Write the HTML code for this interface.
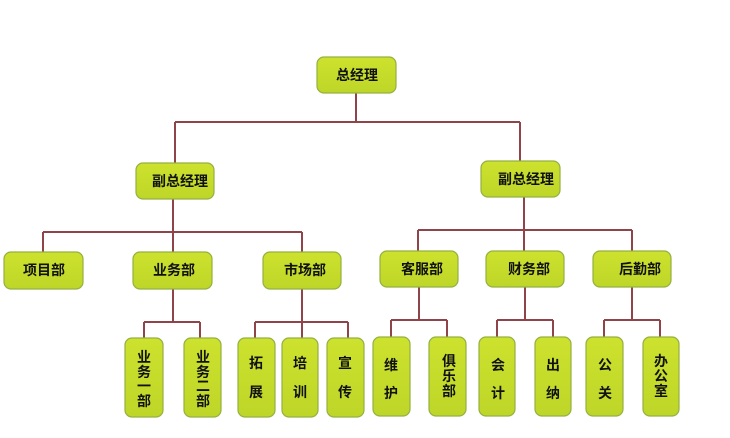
<!DOCTYPE html>
<html><head><meta charset="utf-8"><style>
html,body{margin:0;padding:0;background:#fff;}
svg{display:block;}
text{font-family:"Liberation Sans","Noto Sans CJK SC",sans-serif;font-size:14px;fill:#111;text-anchor:middle;font-weight:bold;}
</style></head><body>
<svg width="730" height="438" viewBox="0 0 730 438" xmlns="http://www.w3.org/2000/svg">
<defs><linearGradient id="g" x1="0" y1="0" x2="0" y2="1"><stop offset="0" stop-color="#cde22e"/><stop offset="1" stop-color="#bed628"/></linearGradient></defs>
<g stroke="#8e4448" stroke-width="2" fill="none">
<path d="M356 93V122M175 122H520M175 122V163M520 122V161"/>
<path d="M173 199V232M43 232H302M43 232V252M173 232V252M302 232V252"/>
<path d="M524 197V230M418 230H632M418 230V251M524 230V251M632 230V251"/>
<path d="M173 289V322M144 322H200M144 322V338M200 322V338"/>
<path d="M302 289V322M255 322H348M255 322V338M302 322V338M348 322V338"/>
<path d="M419 287V320M391 320H447M391 320V337M447 320V337"/>
<path d="M525 287V320M497 320H553M497 320V337M553 320V337"/>
<path d="M632 287V320M604 320H660M604 320V337M660 320V337"/>
</g>
<g fill="url(#g)" stroke="#93b040" stroke-width="1.2">
<rect x="317" y="57" width="79" height="36" rx="7"/>
<rect x="136" y="163" width="78" height="36" rx="7"/>
<rect x="481" y="161" width="79" height="36" rx="7"/>
<rect x="4" y="252" width="79" height="37" rx="7"/>
<rect x="133" y="252" width="79" height="37" rx="7"/>
<rect x="263" y="252" width="78" height="37" rx="7"/>
<rect x="380" y="251" width="78" height="36" rx="7"/>
<rect x="486" y="251" width="78" height="36" rx="7"/>
<rect x="593" y="251" width="78" height="36" rx="7"/>
<rect x="125" y="338" width="38" height="79" rx="7"/>
<rect x="184" y="338" width="37" height="79" rx="7"/>
<rect x="238" y="338" width="37" height="79" rx="7"/>
<rect x="282" y="338" width="36" height="79" rx="7"/>
<rect x="327" y="338" width="37" height="79" rx="7"/>
<rect x="373" y="337" width="37" height="79" rx="7"/>
<rect x="429" y="337" width="37" height="79" rx="7"/>
<rect x="479" y="337" width="36" height="79" rx="7"/>
<rect x="535" y="337" width="36" height="79" rx="7"/>
<rect x="586" y="337" width="37" height="79" rx="7"/>
<rect x="643" y="337" width="36" height="79" rx="7"/>
</g>
<text x="357" y="80">总经理</text>
<text x="180" y="186">副总经理</text>
<text x="526" y="184">副总经理</text>
<text x="44" y="275">项目部</text>
<text x="174" y="275">业务部</text>
<text x="305" y="275">市场部</text>
<text x="422" y="274">客服部</text>
<text x="529" y="274">财务部</text>
<text x="640" y="274">后勤部</text>
<text x="144" y="362">业</text><text x="144" y="377">务</text><text x="144" y="391">一</text><text x="144" y="406">部</text>
<text x="203" y="362">业</text><text x="203" y="377">务</text><text x="203" y="391">二</text><text x="203" y="406">部</text>
<text x="256" y="368">拓</text><text x="256" y="397">展</text>
<text x="300" y="368">培</text><text x="300" y="397">训</text>
<text x="345" y="368">宣</text><text x="345" y="397">传</text>
<text x="391" y="370">维</text><text x="391" y="398">护</text>
<text x="449" y="366">俱</text><text x="449" y="381">乐</text><text x="449" y="396">部</text>
<text x="498" y="370">会</text><text x="498" y="398">计</text>
<text x="553" y="370">出</text><text x="553" y="398">纳</text>
<text x="605" y="370">公</text><text x="605" y="398">关</text>
<text x="661" y="366">办</text><text x="661" y="381">公</text><text x="661" y="396">室</text>
</svg>
</body></html>
